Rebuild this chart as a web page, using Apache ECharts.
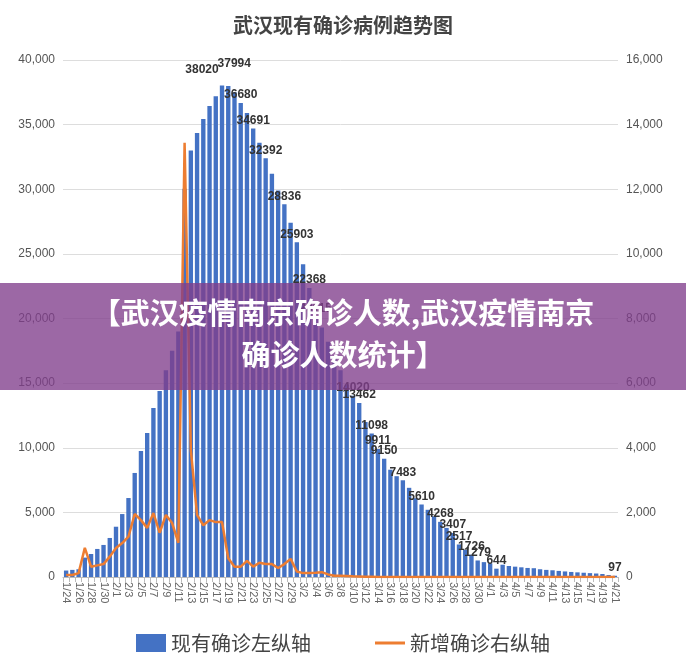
<!DOCTYPE html>
<html>
<head>
<meta charset="utf-8">
<script src="https://cdn.jsdelivr.net/npm/echarts@6/dist/echarts.min.js"></script>
<style>html,body{margin:0;padding:0;background:#fff}#main{width:686px;height:672px}</style>
</head>
<body>
<div id="main"></div>
<script>
// 日期 1/24 - 4/21
let dates = [];
(function () {
    let d = new Date(2020, 0, 24);
    for (let i = 0; i < 89; i++) {
        dates.push((d.getMonth() + 1) + '/' + d.getDate());
        d.setDate(d.getDate() + 1);
    }
})();

// 现有确诊（左纵轴）
let existing = [
    500, 550, 600, 1500, 1780, 2170, 2480, 3020,                 // 1/24-1/31
    3890, 4870, 6110, 8050, 9750, 11140, 13070, 14400, 16000, 17500, 19000, 30043,
    33000, 34350, 35430, 36450, 37200, 38020, 37994, 37500, 36680, 35900,
    34691, 33600, 32392, 31200, 29900, 28836, 27400,            // 2/1-2/29
    25903, 24200, 22368, 20115, 19300, 18200, 17100, 16000, 14900, 14020,
    13462, 12000, 11098, 9911, 9150, 8300, 7800, 7483, 6900, 6100,
    5610, 5200, 4700, 4268, 3800, 3407, 2517, 2100, 1726, 1279, 1150, // 3/1-3/31
    1050, 644, 950, 850, 800, 750, 700, 680, 600, 550,
    520, 470, 430, 390, 360, 330, 300, 270, 230, 150, 97        // 4/1-4/21
];

// 新增确诊（右纵轴）
let newCases = [
    60, 60, 120, 900, 320, 360, 400, 630,
    900, 1050, 1250, 1950, 1760, 1520, 1980, 1370, 1920, 1670, 1060, 13436,
    3930, 1920, 1600, 1760, 1700, 1700, 580, 320, 320, 500,
    320, 440, 400, 400, 280, 400, 560,
    170, 120, 120, 130, 150, 80, 40, 40, 30, 20,
    15, 10, 5, 0, 0, 0, 0, 0, 0, 0,
    0, 0, 0, 0, 0, 0, 0, 0, 0, 0, 0,
    0, 0, 0, 0, 0, 0, 0, 0, 0, 0,
    0, 0, 0, 0, 0, 0, 0, 0, 0, 0, 0
];

// 显示数据标签的日期
let labelDays = ['2/18', '2/19', '2/21', '2/23', '2/25', '2/28', '3/1', '3/3', '3/4',
    '3/10', '3/11', '3/13', '3/14', '3/15', '3/18', '3/21', '3/24', '3/26', '3/27',
    '3/29', '3/30', '4/2', '4/21'];
let labelShift = { '2/18': [-20, -8], '2/19': [6, -14] };

let barData = existing.map((v, i) => ({
    value: v,
    label: { show: labelDays.indexOf(dates[i]) > -1, offset: labelShift[dates[i]] || [0, 0] }
}));

let chart = echarts.init(document.getElementById('main'));
let option = {
    animation: false,
    title: {
        text: '武汉现有确诊病例趋势图',
        left: 'center', top: 10,
        textStyle: { fontSize: 20, fontWeight: 'bold', color: '#444', fontFamily: 'Noto Sans CJK SC' }
    },
    legend: {
        bottom: 14, left: 'center', itemGap: 64, itemWidth: 30, itemHeight: 18,
        textStyle: { fontSize: 20, color: '#444', fontFamily: 'Noto Sans CJK SC' },
        data: [{ name: '现有确诊左纵轴', icon: 'rect' }, { name: '新增确诊右纵轴', icon: 'path://M0,9L30,9L30,12L0,12Z' }]
    },
    grid: { left: 63, right: 68, top: 60, bottom: 95 },
    xAxis: {
        type: 'category', data: dates,
        axisLine: { lineStyle: { color: '#bbb' } },
        axisTick: { show: true, interval: 0, lineStyle: { color: '#bbb' } },
        axisLabel: { interval: 1, rotate: -90, fontSize: 11, color: '#666', margin: 5 }
    },
    yAxis: [
        { type: 'value', min: 0, max: 40000, interval: 5000,
          axisLabel: { fontSize: 12, color: '#555', formatter: '{value}' },
          splitLine: { lineStyle: { color: '#ddd' } } },
        { type: 'value', min: 0, max: 16000, interval: 2000,
          axisLabel: { fontSize: 12, color: '#555', formatter: '{value}' },
          splitLine: { show: false } }
    ],
    series: [
        {
            name: '现有确诊左纵轴', type: 'bar', data: barData,
            barCategoryGap: '30%',
            itemStyle: { color: '#4472C4' },
            label: { position: 'top', fontSize: 12, fontWeight: 'bold', color: '#333', distance: 2 }
        },
        {
            name: '新增确诊右纵轴', type: 'line', yAxisIndex: 1, data: newCases,
            symbol: 'none', lineStyle: { color: '#ED7D31', width: 2.5 },
            itemStyle: { color: '#ED7D31' }
        }
    ],
    graphic: [
        { type: 'rect', left: 0, top: 283, shape: { width: 686, height: 107 },
          style: { fill: 'rgba(128,62,140,0.78)' }, z: 100 },
        { type: 'text', left: 'center', top: 292, z: 101,
          style: { text: '【武汉疫情南京确诊人数,武汉疫情南京\n确诊人数统计】', fill: '#fff',
                   font: 'bold 29px "Noto Sans CJK SC"', textAlign: 'center', lineHeight: 42 } }
    ]
};
chart.setOption(option);
</script>
</body>
</html>
